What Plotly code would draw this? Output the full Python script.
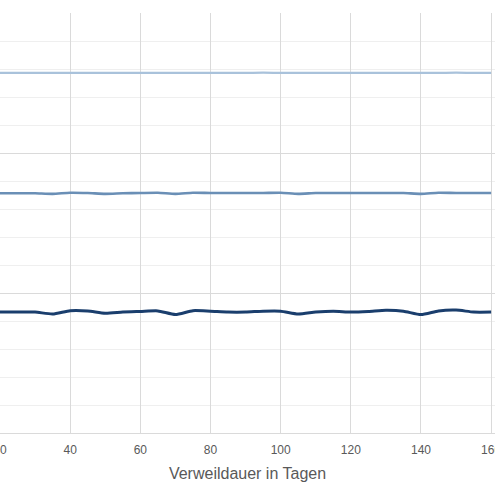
import plotly.graph_objects as go

days = list(range(20, 165, 5))

series_low = [4.32, 4.32, 4.32, 4.25, 4.37, 4.36, 4.28, 4.32, 4.34, 4.36,
              4.23, 4.37, 4.35, 4.32, 4.32, 4.35, 4.35, 4.25, 4.32, 4.35,
              4.32, 4.34, 4.38, 4.35, 4.23, 4.36, 4.39, 4.32, 4.32]
series_mid = [8.56, 8.56, 8.56, 8.54, 8.58, 8.57, 8.54, 8.56, 8.57, 8.58,
              8.54, 8.58, 8.57, 8.57, 8.57, 8.57, 8.58, 8.54, 8.57, 8.57,
              8.57, 8.57, 8.57, 8.57, 8.54, 8.58, 8.57, 8.57, 8.57]
series_high = [12.86, 12.86, 12.86, 12.86, 12.86, 12.86, 12.86, 12.86, 12.86, 12.86,
               12.86, 12.86, 12.86, 12.86, 12.86, 12.87, 12.86, 12.86, 12.86, 12.86,
               12.86, 12.86, 12.86, 12.86, 12.86, 12.86, 12.87, 12.86, 12.86]

x_title = "Verweildauer in Tagen"

fig = go.Figure()
fig.add_trace(go.Scatter(x=days, y=series_high, mode="lines",
                         line=dict(color="#a9c2db", width=2.2, shape="spline", smoothing=0.6),
                         showlegend=False))
fig.add_trace(go.Scatter(x=days, y=series_mid, mode="lines",
                         line=dict(color="#6a8fb6", width=2.6, shape="spline", smoothing=0.6),
                         showlegend=False))
fig.add_trace(go.Scatter(x=days, y=series_low, mode="lines",
                         line=dict(color="#1a3e6d", width=3, shape="spline", smoothing=0.6),
                         showlegend=False))

fig.update_layout(
    width=495, height=495,
    margin=dict(l=0, r=0, t=13, b=62, pad=0),
    paper_bgcolor="white", plot_bgcolor="white",
    font=dict(family="Liberation Sans, Arial, sans-serif", color="#595959"),
    xaxis=dict(
        range=[20, 161.1], dtick=20, tick0=0, automargin=False,
        ticklabeloverflow="allow", ticklabelstandoff=5,
        showgrid=True, gridcolor="#dadada", gridwidth=1.4,
        zeroline=False, showline=True, linecolor="#dadada", linewidth=1.4,
        ticks="", tickfont=dict(size=12, color="#595959"),
        title=dict(text=x_title, font=dict(size=16, color="#595959"), standoff=12),
    ),
    yaxis=dict(
        range=[0, 15], dtick=5, tick0=0, automargin=False,
        showgrid=True, gridcolor="#dadada", gridwidth=1.4,
        minor=dict(dtick=1, showgrid=True, gridcolor="#efefef", gridwidth=1.4),
        zeroline=False, showline=False, showticklabels=False, ticks="",
    ),
)

fig.write_html("out.html",
               config={"displayModeBar": False},
               post_script="document.body.style.margin='0';document.body.style.overflow='hidden';")
